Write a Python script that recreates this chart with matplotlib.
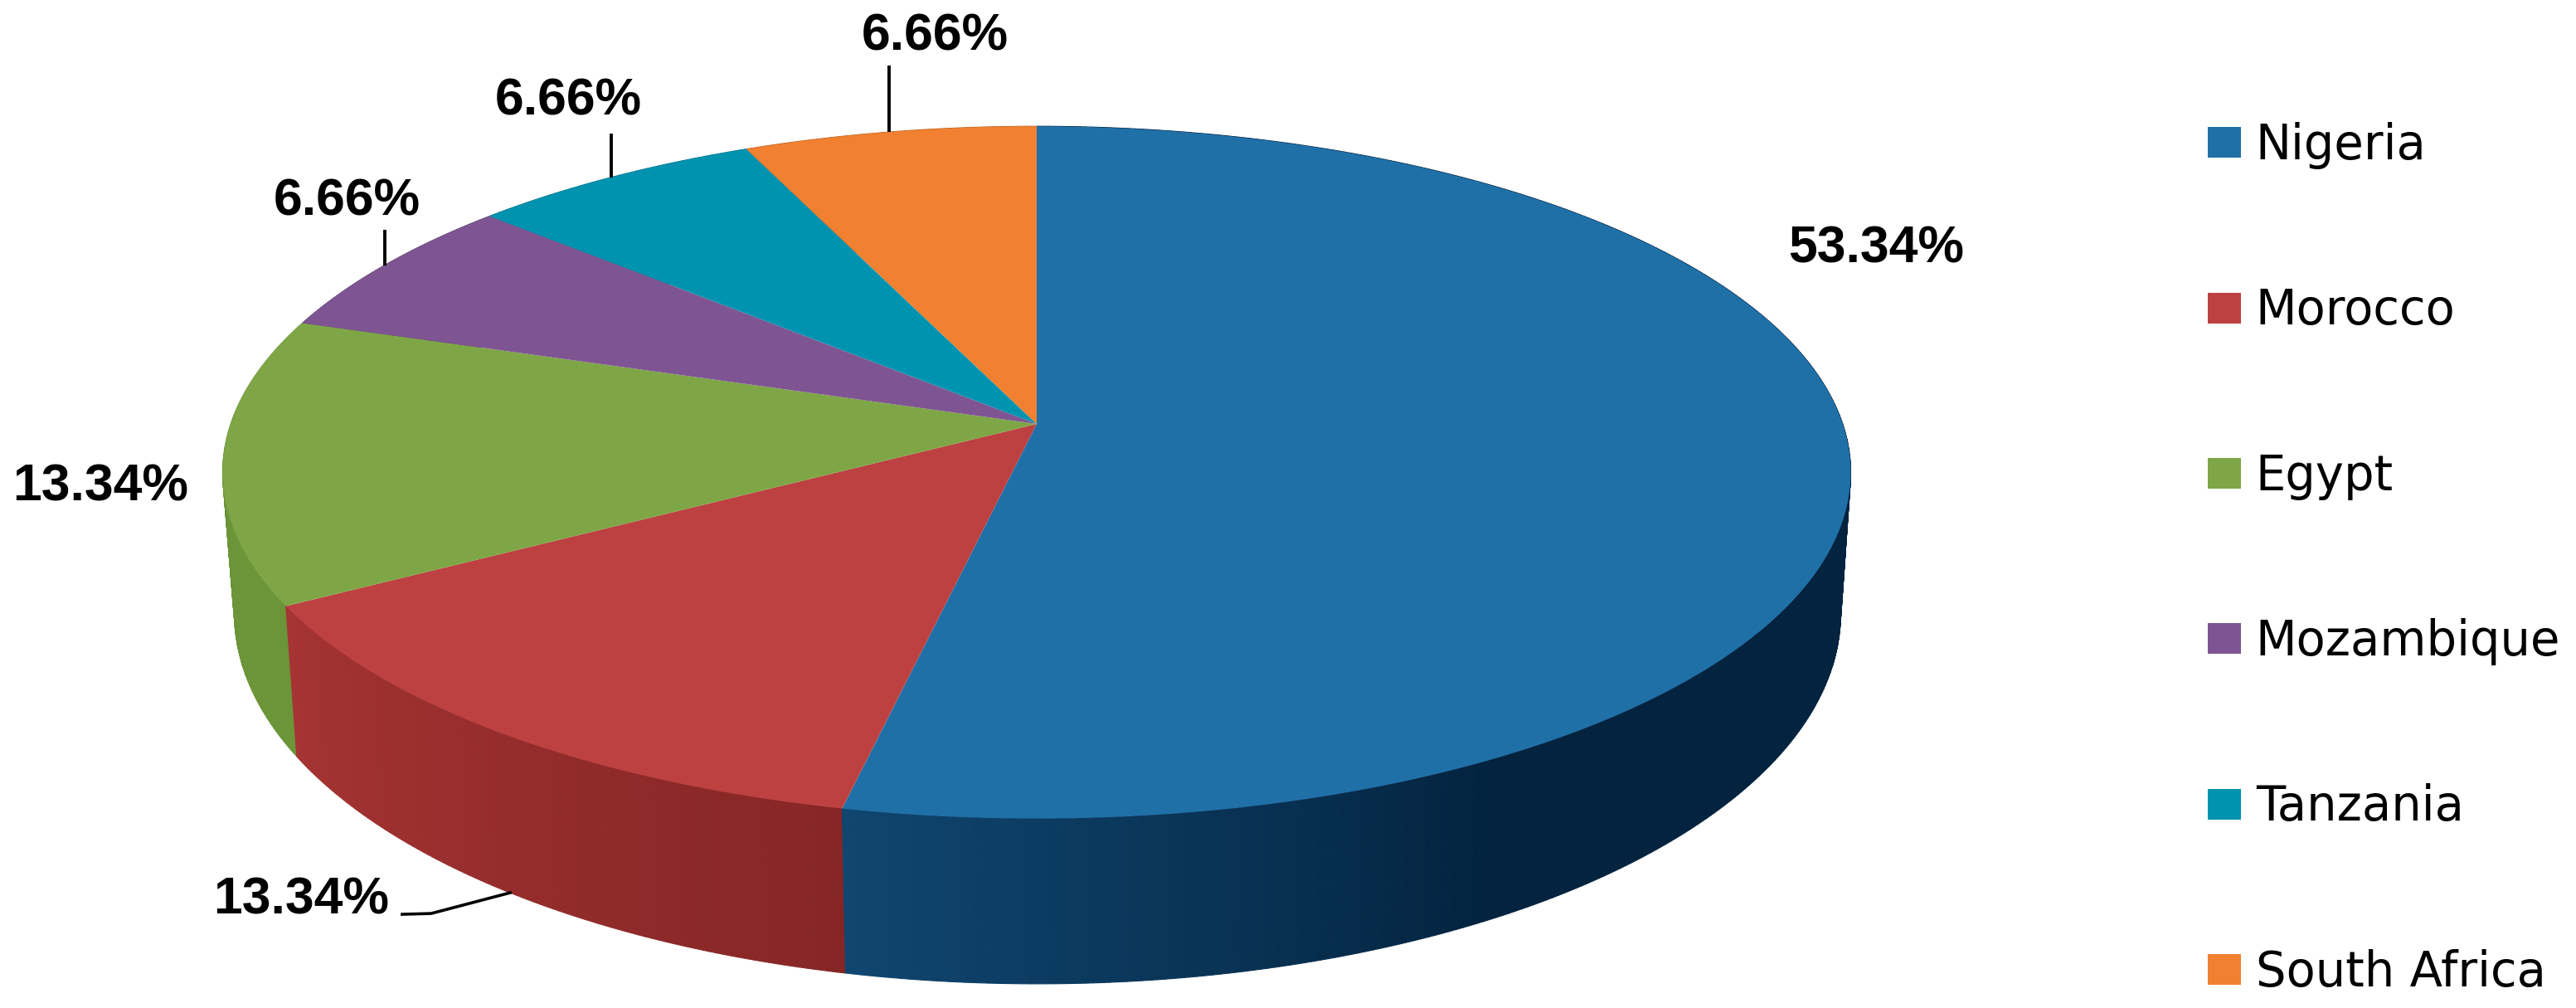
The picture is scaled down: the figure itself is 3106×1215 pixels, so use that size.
import numpy as np
import matplotlib
matplotlib.use("Agg")
import matplotlib.pyplot as plt
from matplotlib.collections import PolyCollection
from matplotlib.colors import to_rgb
from matplotlib.patches import Patch
from matplotlib.transforms import Transform

# ---- data ----
countries = ["Nigeria", "Morocco", "Egypt", "Mozambique", "Tanzania", "South Africa"]
shares = [53.34, 13.34, 13.34, 6.66, 6.66, 6.66]
share_labels = ["53.34%", "13.34%", "13.34%", "6.66%", "6.66%", "6.66%"]

# ---- styles ----
top_colors = ["#2070A8", "#BC4140", "#7EA646", "#7E5592", "#0093B0", "#F18030"]
wall_stops = [
    [(0.0, "#03233F"), (0.78, "#03233F"), (1.0, "#104670")],
    [(0.0, "#852625"), (1.0, "#A53433")],
    [(0.0, "#6C9439"), (1.0, "#6C9439")],
    [(0.0, "#5E3F6E"), (1.0, "#5E3F6E")],
    [(0.0, "#006E84"), (1.0, "#006E84")],
    [(0.0, "#B46024"), (1.0, "#B46024")],
]
label_xy = [(2262, 300), (363, 1085), (121, 587), (418, 243), (685, 122), (1127, 44)]
leader_rise = [None, None, None, 43, 53, 80]

W, H = 3106, 1215
CX, CY = 1250, 511          # pie apex on the top face
A, B, K = 971.8, 409.0, 0.14
LOW_SX, LOW_SY, LOW_X, LOW_Y = 0.9866, 1.07, 1251.0, 677.0  # lower rim of the wall


def project(u, v):
    w = 1.0 + K * np.asarray(v)
    return CX + A * np.asarray(u) / w, CY - B * np.asarray(v) / w


def project_low(u, v):
    w = 1.0 + K * np.asarray(v)
    return LOW_X + LOW_SX * A * np.asarray(u) / w, LOW_Y - LOW_SY * B * np.asarray(v) / w


class Perspective(Transform):
    input_dims = output_dims = 2
    is_affine = False
    has_inverse = False

    def transform_non_affine(self, values):
        values = np.asarray(values, dtype=float)
        x, y = project(values[:, 0], values[:, 1])
        return np.column_stack([x, y])


fig = plt.figure(figsize=(W / 100, H / 100), dpi=100, facecolor="white")
ax = fig.add_axes([0, 0, 1, 1])

edges = np.concatenate([[0.0], np.cumsum(shares)]) / np.sum(shares) * 360.0

# side wall
polys, facecols, depth = [], [], []
for i in range(len(shares)):
    t0, t1 = edges[i], edges[i + 1]
    n = max(8, int((t1 - t0) * 2))
    tt = np.linspace(t0, t1, n + 1)
    pos = [p for p, _ in wall_stops[i]]
    rgb = np.array([to_rgb(c) for _, c in wall_stops[i]])
    for a, b in zip(tt[:-1], tt[1:]):
        ra, rb = np.radians([a, b])
        ua, va, ub, vb = np.sin(ra), np.cos(ra), np.sin(rb), np.cos(rb)
        xa, ya = project(ua, va)
        xb, yb = project(ub, vb)
        xc, yc = project_low(ub, vb)
        xd, yd = project_low(ua, va)
        polys.append([(xa, ya), (xb, yb), (xc, yc), (xd, yd)])
        f = ((a + b) / 2 - t0) / (t1 - t0)
        facecols.append([np.interp(f, pos, rgb[:, k]) for k in range(3)])
        depth.append((va + vb) / 2)
order = np.argsort(depth)[::-1]
walls = PolyCollection([polys[j] for j in order],
                       facecolors=[facecols[j] for j in order],
                       edgecolors=[facecols[j] for j in order],
                       linewidths=0.8, zorder=1)
ax.add_collection(walls)

# top face: a real pie, seen through the perspective mapping
wedges, _ = ax.pie(shares, colors=top_colors, startangle=90, counterclock=False,
                   radius=1.0, wedgeprops={"linewidth": 0})
persp = Perspective() + ax.transData
for w in wedges:
    w.set_transform(persp)
    w.set_zorder(2)
    w.set_clip_on(False)

ax.set_aspect("auto")
ax.set_xlim(0, W)
ax.set_ylim(H, 0)
ax.axis("off")

# data labels and leader lines
for i, lab in enumerate(share_labels):
    ax.text(*label_xy[i], lab, ha="center", va="center", fontsize=45,
            fontweight="bold", family="Liberation Sans", color="black", zorder=4)
    mid = np.radians((edges[i] + edges[i + 1]) / 2)
    if leader_rise[i] is not None:
        x, y = project(np.sin(mid), np.cos(mid))
        ax.plot([x, x], [y, y - leader_rise[i]], color="black", lw=2.8, zorder=3,
                solid_capstyle="butt")
    elif i == 1:
        x, y = project_low(np.sin(mid), np.cos(mid))
        ax.plot([x, x - 95, x - 130], [y, y + 25, y + 26], color="black", lw=2.6,
                zorder=3)

# legend
handles = [Patch(facecolor=c, edgecolor="none", label=n) for c, n in zip(top_colors, countries)]
leg = fig.legend(handles=handles, loc="upper left", bbox_to_anchor=(2662 / W, 1 - 147 / H),
                 bbox_transform=fig.transFigure, frameon=False,
                 prop={"family": "DejaVu Sans", "size": 41.5},
                 handlelength=0.70, handleheight=0.61, handletextpad=0.30,
                 labelspacing=2.47, borderpad=0, borderaxespad=0)

fig.savefig("out.png", dpi=100, facecolor="white")
